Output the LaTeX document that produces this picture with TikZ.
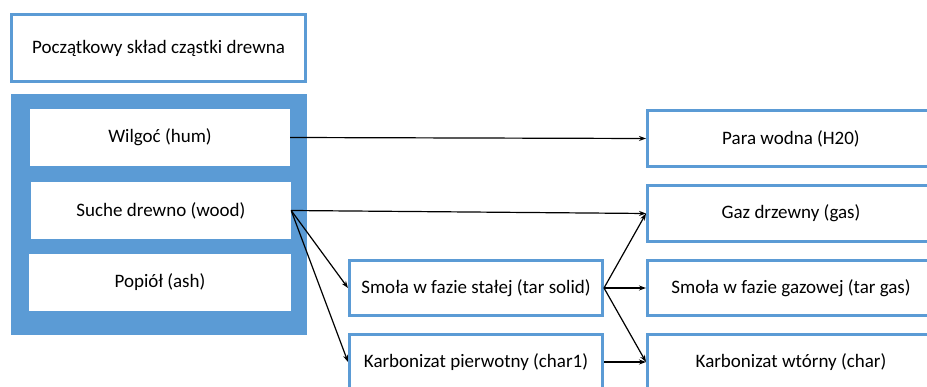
\documentclass[tikz,border=0pt]{standalone}
\usepackage{fontspec}
\setmainfont{Carlito}
\usetikzlibrary{arrows.meta}
\definecolor{obl}{HTML}{5B9BD5}
\tikzset{
  box/.style={draw=obl, line width=3pt, fill=white, rectangle, inner sep=0pt, align=center, font=\fontsize{19}{22}\selectfont},
  inbox/.style={fill=white, rectangle, inner sep=0pt, align=center, font=\fontsize{19}{22}\selectfont},
  conn/.style={line width=1.2pt, -{Stealth[length=7pt,width=5pt]}}
}
\begin{document}
\begin{tikzpicture}[x=1pt,y=-1pt]
\useasboundingbox (0,0) rectangle (927,387);
\clip (0,0) rectangle (927,387);
\fill[white] (0,0) rectangle (927,387);
% top box
\node[box, minimum width=294pt, minimum height=67pt] (init) at (158.5,48) {Początkowy skład cząstki drewna};
% blue block
\fill[obl] (11,94) rectangle (307,335);
\node[inbox, minimum width=260pt, minimum height=57pt] (hum) at (160,137.5) {Wilgoć (hum)};
\node[inbox, minimum width=260pt, minimum height=57pt] (wood) at (161,210.5) {Suche drewno (wood)};
\node[inbox, minimum width=262pt, minimum height=57pt] (ash) at (160,282.5) {Popiół (ash)};
% middle
\node[box, minimum width=253pt, minimum height=55pt] (tars) at (476,288) {Smoła w fazie stałej (tar solid)};
\node[box, minimum width=253pt, minimum height=55pt] (char1) at (476,362) {Karbonizat pierwotny (char1)};
% right
\node[box, minimum width=287pt, minimum height=56pt] (h2o) at (791,138.5) {Para wodna (H20)};
\node[box, minimum width=287pt, minimum height=56pt] (gas) at (791,213.5) {Gaz drzewny (gas)};
\node[box, minimum width=287pt, minimum height=55pt] (targ) at (791,288) {Smoła w fazie gazowej (tar gas)};
\node[box, minimum width=287pt, minimum height=55pt] (char) at (791,362) {Karbonizat wtórny (char)};
% connectors
\draw[conn] (hum.east) -- (h2o.west);
\draw[conn] (wood.east) -- (gas.west);
\draw[conn] (wood.east) -- (tars.west);
\draw[conn] (wood.east) -- (char1.west);
\draw[conn] (tars.east) -- (gas.west);
\draw[conn] (tars.east) -- (targ.west);
\draw[conn] (tars.east) -- (char.west);
\draw[conn] (char1.east) -- (char.west);
\end{tikzpicture}
\end{document}
